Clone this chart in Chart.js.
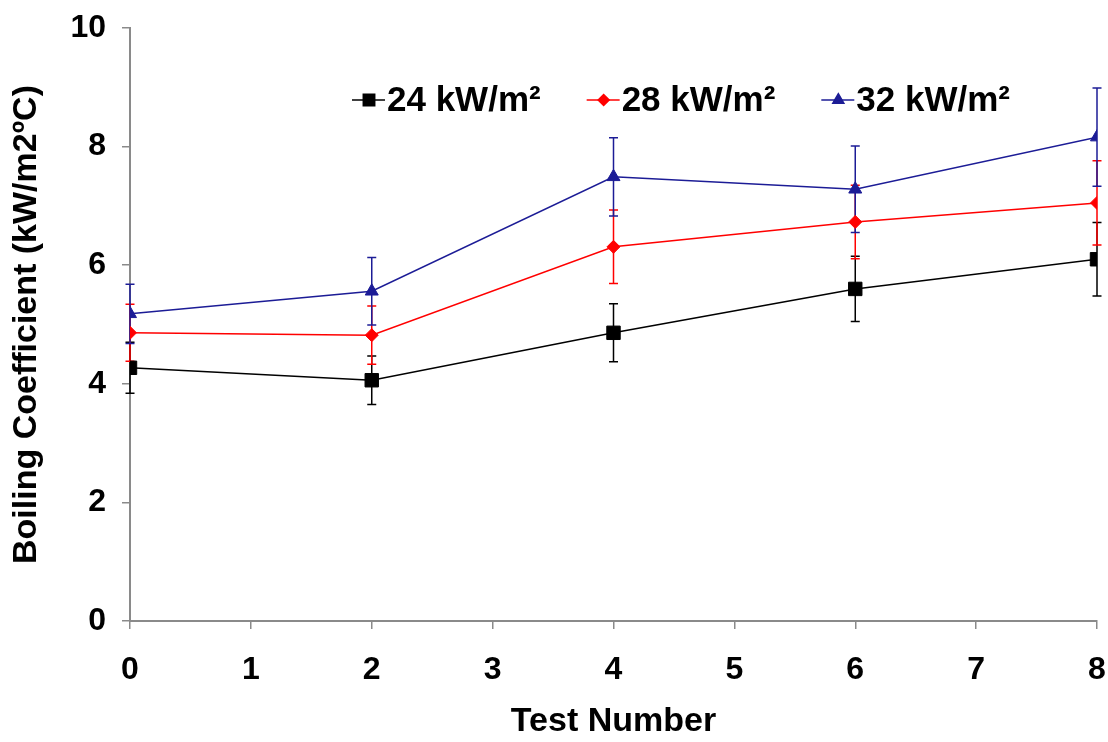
<!DOCTYPE html>
<html>
<head>
<meta charset="utf-8">
<script src="https://cdn.jsdelivr.net/npm/chart.js@4.4.1/dist/chart.umd.min.js"></script>
<style>
  html, body { margin: 0; padding: 0; background: #fff; }
  #wrap { width: 1108px; height: 742px; }
</style>
</head>
<body>
<div id="wrap"><canvas id="boilChart" width="1108" height="742"></canvas></div>
<script>
// test numbers on the x axis
const testNumbers = [0, 2, 4, 6, 8];

// boiling coefficient per heat flux (kW/m2C)
const seriesNames = ["24 kW/m²", "28 kW/m²", "32 kW/m²"];
const h24 = [4.27, 4.06, 4.86, 5.60, 6.10];
const h28 = [4.86, 4.82, 6.31, 6.73, 7.05];
const h32 = [5.18, 5.56, 7.49, 7.28, 8.16];

// error bar half-widths
const err24 = [0.43, 0.41, 0.49, 0.55, 0.62];
const err28 = [0.48, 0.49, 0.62, 0.62, 0.71];
const err32 = [0.50, 0.57, 0.66, 0.73, 0.83];

const xTicks = [0, 1, 2, 3, 4, 5, 6, 7, 8];
const yTicks = [0, 2, 4, 6, 8, 10];

const colors = ["#000000", "#ff0000", "#1c1c96"];
const markers = ["rect", "rectRot", "triangle"];
const markerSize = [9.5, 6.5, 7.5];

const FONT = "'Liberation Sans', Arial, sans-serif";

function toPoints(vals) {
    return testNumbers.map((x, i) => ({ x: x, y: vals[i] }));
}

// error bars drawn under the markers, using the chart scales
const errorBarPlugin = {
    id: 'errorBars',
    beforeDatasetsDraw(chart) {
        const ctx = chart.ctx;
        const xs = chart.scales.x, ys = chart.scales.y;
        chart.data.datasets.forEach(ds => {
            ctx.save();
            ctx.strokeStyle = ds.borderColor;
            ctx.lineWidth = 1.5;
            ds.data.forEach((p, i) => {
                const e = ds.errors[i];
                const px = xs.getPixelForValue(p.x);
                const top = ys.getPixelForValue(p.y + e);
                const bot = ys.getPixelForValue(p.y - e);
                ctx.beginPath();
                ctx.moveTo(px, top); ctx.lineTo(px, bot);
                ctx.moveTo(px - 4.5, top); ctx.lineTo(px + 4.5, top);
                ctx.moveTo(px - 4.5, bot); ctx.lineTo(px + 4.5, bot);
                ctx.stroke();
            });
            ctx.restore();
        });
    }
};

// legend inside the plot, line + marker + text
const insideLegend = {
    id: 'insideLegend',
    afterDraw(chart) {
        const ctx = chart.ctx;
        const area = chart.chartArea;
        let x = area.left + 222;
        const y = area.top + 72;
        ctx.save();
        ctx.font = "bold 35px " + FONT;
        ctx.textBaseline = 'middle';
        chart.data.datasets.forEach((ds, i) => {
            ctx.strokeStyle = ds.borderColor;
            ctx.fillStyle = ds.borderColor;
            ctx.lineWidth = 1.5;
            ctx.beginPath();
            ctx.moveTo(x, y); ctx.lineTo(x + 33, y);
            ctx.stroke();
            Chart.helpers.drawPoint(ctx, {
                pointStyle: ds.pointStyle,
                radius: ds.pointRadius * 0.85,
                borderWidth: 1
            }, x + 17, y);
            ctx.fillStyle = '#000';
            ctx.fillText(ds.label, x + 35, y + 1);
            x += 35 + ctx.measureText(ds.label).width + 46;
        });
        ctx.restore();
    }
};

const datasets = [h24, h28, h32].map((vals, i) => ({
    label: seriesNames[i],
    data: toPoints(vals),
    errors: [err24, err28, err32][i],
    borderColor: colors[i],
    backgroundColor: colors[i],
    pointStyle: markers[i],
    pointRadius: markerSize[i],
    pointBorderWidth: 1,
    borderWidth: 1.5,
    tension: 0
}));

const axisColor = '#8a8a8a';

new Chart(document.getElementById('boilChart').getContext('2d'), {
    type: 'line',
    data: { datasets: datasets },
    plugins: [errorBarPlugin, insideLegend],
    options: {
        responsive: false,
        animation: false,
        layout: { padding: { top: 28, right: 11, left: 0, bottom: 0 } },
        plugins: {
            legend: { display: false },
            tooltip: { enabled: false }
        },
        scales: {
            x: {
                type: 'linear',
                min: 0, max: 8,
                afterBuildTicks: s => { s.ticks = xTicks.map(v => ({ value: v })); },
                afterFit: s => { s.height = 121; s.paddingLeft = 0; s.paddingRight = 0; },
                grid: { drawOnChartArea: false, drawTicks: true, tickLength: 8, color: axisColor, lineWidth: 1.5 },
                border: { display: true, color: axisColor, width: 2 },
                ticks: { color: '#000', padding: 22, maxRotation: 0, font: { family: FONT, size: 32, weight: 'bold' } },
                title: {
                    display: true, text: 'Test Number', color: '#000',
                    padding: { top: 0, bottom: 0 },
                    font: { family: FONT, size: 34, weight: 'bold' }
                }
            },
            y: {
                min: 0, max: 10,
                afterBuildTicks: s => { s.ticks = yTicks.map(v => ({ value: v })); },
                afterFit: s => { s.width = 130; s.paddingTop = 0; s.paddingBottom = 0; },
                grid: { drawOnChartArea: false, drawTicks: true, tickLength: 8, color: axisColor, lineWidth: 1.5 },
                border: { display: true, color: axisColor, width: 2 },
                ticks: { color: '#000', padding: 16, font: { family: FONT, size: 32, weight: 'bold' } },
                title: {
                    display: true, text: 'Boiling Coefficient (kW/m2ºC)', color: '#000',
                    padding: { top: 6, bottom: 0 },
                    font: { family: FONT, size: 34, weight: 'bold' }
                }
            }
        }
    }
});
</script>
</body>
</html>
